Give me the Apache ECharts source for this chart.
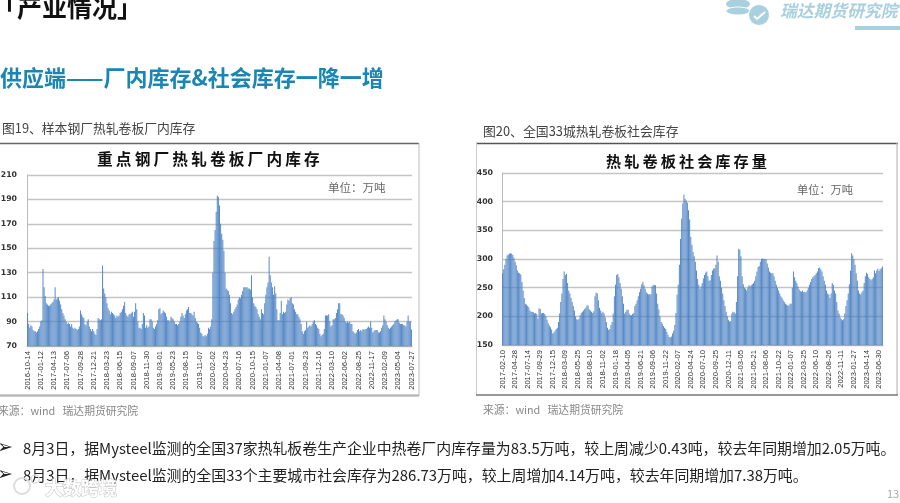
<!DOCTYPE html>
<html><head><meta charset="utf-8">
<style>html,body{margin:0;padding:0;background:#fff;overflow:hidden}#c{width:900px;height:503px;filter:blur(0.35px)}</style>
<script src="https://cdn.jsdelivr.net/npm/echarts@6/dist/echarts.min.js"></script>
</head><body><div id="c"></div>
<script>
const plantTicks=['2016-10-14','2017-01-12','2017-04-13','2017-07-06','2017-09-28','2017-12-21','2018-03-23','2018-06-15','2018-09-07','2018-11-30','2019-03-01','2019-05-23','2019-08-15','2019-11-07','2020-02-02','2020-04-23','2020-07-16','2020-10-15','2021-01-07','2021-04-08','2021-07-01','2021-09-23','2021-12-16','2022-03-10','2022-06-02','2022-08-25','2022-11-17','2023-02-09','2023-05-04','2023-07-27'];
const plantStep=12;
const plantValues=[
97,88,85,87,86,83,82,82,81,82,84,86,
90,91,133,118,111,105,104,103,103,104,105,106,
108,118,108,109,110,107,104,100,97,95,92,90,
88,89,88,86,88,85,84,85,84,83,84,86,
99,96,94,93,88,87,90,92,86,84,82,84,
82,80,79,84,93,92,91,92,136,117,113,110,
105,101,99,96,98,97,96,95,93,95,94,95,
97,98,100,103,106,97,95,94,96,96,97,98,
94,98,105,100,90,85,85,84,88,97,95,85,
87,85,86,92,92,90,85,84,86,88,91,100,
101,96,97,99,98,97,94,91,91,90,94,93,
92,90,88,88,87,88,90,94,97,95,93,96,
99,100,102,97,97,96,95,98,93,90,89,88,
85,81,80,78,78,79,78,80,85,84,86,92,
130,156,165,180,193,192,185,170,162,157,148,130,
117,116,115,112,105,97,96,98,100,102,104,108,
110,109,112,115,118,118,118,118,117,117,116,128,
110,105,103,102,100,96,94,92,100,97,96,105,
112,118,122,143,128,122,118,112,119,113,100,91,
91,97,107,96,98,97,98,104,108,107,109,110,
105,104,100,98,96,96,94,92,88,82,80,82,
83,90,85,86,87,86,88,90,91,88,87,85,
84,80,78,79,80,84,95,95,95,96,90,86,
87,92,92,93,97,100,105,105,96,96,95,93,
90,89,90,89,90,88,88,82,81,80,81,83,
84,82,83,82,84,83,84,84,85,86,85,90,
85,81,82,83,83,83,81,81,82,85,87,95,
92,90,87,85,84,85,86,87,88,90,91,92,
92,89,88,88,88,87,87,86,90,95,90,90,83.5];
const socialTicks=['2017-02-10','2017-04-28','2017-07-14','2017-09-29','2017-12-15','2018-03-09','2018-05-25','2018-08-10','2018-11-02','2019-01-18','2019-04-05','2019-06-21','2019-09-06','2019-11-22','2020-02-07','2020-04-24','2020-07-10','2020-09-25','2020-12-11','2021-03-05','2021-05-21','2021-08-06','2021-10-22','2022-01-07','2022-03-25','2022-06-10','2022-08-26','2022-11-11','2023-01-27','2023-04-14','2023-06-30'];
const socialStep=11;
const socialValues=[
275,282,290,300,306,308,309,310,309,307,302,
295,289,280,276,275,273,260,245,232,222,220,
218,216,210,208,208,207,205,206,204,196,214,
213,205,206,206,204,200,194,188,184,181,177,
170,172,175,178,180,190,205,225,240,265,278,
272,274,258,245,240,232,225,218,210,200,195,
194,196,202,206,208,210,213,215,219,219,212,
210,208,206,209,235,241,240,228,215,210,206,
208,205,198,190,180,176,178,185,190,205,235,
255,272,274,268,258,248,235,222,205,208,211,
212,205,202,202,204,206,218,222,228,235,242,
248,256,260,254,248,242,240,238,239,238,252,
254,255,254,240,222,212,200,190,187,183,180,
178,173,168,164,163,165,170,175,185,206,238,
255,290,335,370,397,412,405,402,398,385,369,
339,325,312,305,295,280,265,255,248,252,258,
266,272,276,278,270,262,263,272,280,283,284,
290,306,295,270,262,250,240,228,218,208,200,
194,191,192,205,208,207,205,225,270,318,316,
305,270,256,250,248,245,250,254,252,254,256,
258,262,270,278,286,288,295,300,301,300,300,
300,292,285,278,276,275,275,270,262,255,250,
245,240,235,232,228,225,222,220,219,219,222,
222,250,278,268,262,258,252,247,244,243,245,
242,243,242,245,250,255,260,265,268,270,272,
275,278,284,285,282,278,270,262,255,245,240,
238,232,240,258,255,245,240,225,210,205,198,
195,193,195,205,218,228,240,256,280,310,306,
300,290,275,262,245,240,238,242,245,258,270,
276,274,268,265,263,265,268,280,275,280,283,
279,282,284,286.73];
const plantCats=plantValues.map((_,i)=>i%plantStep===0?(plantTicks[i/plantStep]||''):'');
const socialCats=socialValues.map((_,i)=>i%socialStep===0?(socialTicks[i/socialStep]||''):'');

const SANS='"Noto Sans CJK SC","Noto Sans",sans-serif';
const txt=(x,y,text,size,color,weight,extra)=>({type:'text',silent:true,x,y,style:Object.assign({text,fontSize:size,fill:color,fontWeight:weight||'normal',fontFamily:SANS,textVerticalAlign:'middle',textBaseline:'middle'},extra||{})});
const ln=(x1,y1,x2,y2,c,w)=>({type:'line',silent:true,shape:{x1,y1,x2,y2},style:{stroke:c,lineWidth:w}});
const LOGO='#a9d0de';
const spaced=s=>s.split('').join('\u2009');
const graphics=[
 txt(-8,7,'「产业情况」',25,'#111','bold'),
 txt(0,78,'供应端——厂内库存&社会库存一降一增',22,'#1a86b4','bold'),
 {type:'ellipse',silent:true,shape:{cx:738,cy:4,rx:12,ry:5},style:{fill:LOGO}},
 {type:'ellipse',silent:true,shape:{cx:738,cy:11,rx:12,ry:4},style:{fill:LOGO,stroke:'#fff',lineWidth:1}},
 {type:'circle',silent:true,shape:{cx:759,cy:15,r:10.5},style:{fill:LOGO,stroke:'#fff',lineWidth:1}},
 {type:'polyline',silent:true,shape:{points:[[754,16],[757,19],[765,12]]},style:{stroke:'#fff',lineWidth:2,fill:null}},
 txt(780,11,'瑞达期货研究院',16.8,LOGO,'bold',{fontStyle:'italic'}),
 {type:'rect',silent:true,shape:{x:855,y:26,width:45,height:4},style:{fill:LOGO}},
 txt(2,128,'图19、样本钢厂热轧卷板厂内库存',12.8,'#444'),
 txt(483,131,'图20、全国33城热轧卷板社会库存',12.85,'#444'),
 ln(0,143.5,419,143.5,'#666',1.5), ln(419,143,419,396,'#bbb',1), ln(0,395.5,419,395.5,'#bbb',2.5),
 ln(476,143.5,898,143.5,'#555',1.5), ln(476.5,143,476.5,395,'#ccc',1), ln(897,143,897,395,'#bbb',1.2), ln(476,395,898,395,'#777',1.5),
 txt(97,159,spaced('重点钢厂热轧卷板厂内库存'),15.7,'#111','bold'),
 txt(606,161,spaced('热轧卷板社会库存量'),15.2,'#111','bold'),
 txt(328,188,'单位：万吨',11.5,'#666'),
 txt(797,190,'单位：万吨',11.2,'#666'),
 txt(-2,411,'来源：wind   瑞达期货研究院',10.8,'#888'),
 txt(483,410,'来源：wind   瑞达期货研究院',10.8,'#888'),
 txt(-3,448,'➢',19,'#222','bold',{fontFamily:'"DejaVu Sans"'}),
 txt(-3,475,'➢',19,'#222','bold',{fontFamily:'"DejaVu Sans"'}),
 txt(23,448,'8月3日，据Mysteel监测的全国37家热轧板卷生产企业中热卷厂内库存量为83.5万吨，较上周减少0.43吨，较去年同期增加2.05万吨。',14.9,'#222'),
 txt(23,475,'8月3日，据Mysteel监测的全国33个主要城市社会库存为286.73万吨，较上周增加4.14万吨，较去年同期增加7.38万吨。',14.9,'#222'),
 txt(45,488,'大数跨境',18,'#fff','bold',{stroke:'#c4c4c4',lineWidth:1}),
 {type:'circle',silent:true,shape:{cx:22,cy:486,r:8},style:{fill:null,stroke:'#ddd',lineWidth:2}},
 {type:'circle',silent:true,shape:{cx:35,cy:479,r:4},style:{fill:null,stroke:'#ddd',lineWidth:1.5}},
 txt(887,494,'13',11,'#aaa')
];
const axisCommon=(xi)=>({type:'category',gridIndex:xi,boundaryGap:true,axisTick:{show:false},
  axisLine:{lineStyle:{color:'#aaa',width:1}},splitLine:{show:false}});
const xLabel={rotate:90,fontSize:7.6,color:'#333',fontFamily:'"Liberation Sans"',margin:5,hideOverlap:false};
const yAx=(gi,min,max,interval,margin)=>({type:'value',gridIndex:gi,min,max,interval,
  axisLine:{show:true,lineStyle:{color:'#bbb'}},axisTick:{show:false},
  axisLabel:{fontSize:7.8,fontWeight:'bold',color:'#333',fontFamily:'"DejaVu Sans"',margin},
  splitLine:{show:true,lineStyle:{color:'#c4c4c4',width:1.4}}});
const chart=echarts.init(document.getElementById('c'),null,{renderer:'canvas'});
chart.setOption({
 animation:false,backgroundColor:'#fff',
 grid:[{left:27,top:175,width:385,height:171,containLabel:false,outerBoundsMode:'none'},{left:502,top:173,width:381,height:172,containLabel:false,outerBoundsMode:'none'}],
 xAxis:[
  Object.assign(axisCommon(0),{data:plantCats,axisLabel:Object.assign({interval:(i)=>i%plantStep===0},xLabel)}),
  Object.assign(axisCommon(1),{data:socialCats,axisLabel:Object.assign({interval:(i)=>i%socialStep===0},xLabel)})
 ],
 yAxis:[yAx(0,70,210,20,10),yAx(1,150,450,50,9)],
 series:[
  {type:'bar',xAxisIndex:0,yAxisIndex:0,data:plantValues,barWidth:0.72,itemStyle:{color:'#4a80c2',opacity:.92}},
  {type:'bar',xAxisIndex:1,yAxisIndex:1,data:socialValues,barWidth:0.78,itemStyle:{color:'#4a80c2',opacity:.92}}
 ],
 graphic:graphics
});
</script></body></html>
